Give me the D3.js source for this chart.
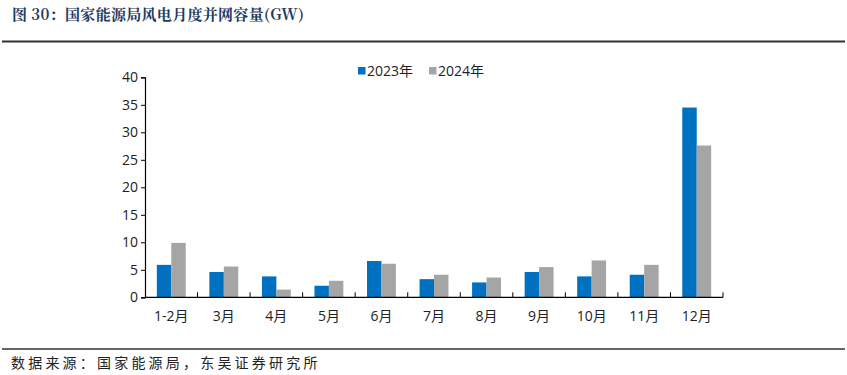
<!DOCTYPE html>
<html>
<head>
<meta charset="utf-8">
<script src="https://cdn.jsdelivr.net/npm/d3@7"></script>
<style>
  html, body { margin: 0; padding: 0; background: #fff; }
  svg { display: block; }
</style>
</head>
<body>
<div id="chart"></div>
<script>
// Monthly grid-connected wind capacity (GW), NEA
const months = ['1-2月', '3月', '4月', '5月', '6月', '7月', '8月', '9月', '10月', '11月', '12月'];
const series2023 = [5.9, 4.6, 3.8, 2.1, 6.6, 3.3, 2.7, 4.6, 3.8, 4.1, 34.5];
const series2024 = [9.9, 5.6, 1.4, 3.0, 6.1, 4.1, 3.6, 5.5, 6.7, 5.9, 27.6];
const seriesNames = ['2023年', '2024年'];
const seriesColors = ['#0070c0', '#a5a5a5'];
const yTickValues = [0, 5, 10, 15, 20, 25, 30, 35, 40];

const W = 847, H = 375;
const cjk = '"Noto Sans CJK SC", "Noto Sans", sans-serif';
const latin = '"Open Sans", "Noto Sans", "Noto Sans CJK SC", sans-serif';

const svg = d3.select('#chart').append('svg')
  .attr('width', W).attr('height', H);

// Header: title + rule
svg.append('text')
  .attr('x', 12).attr('y', 20)
  .attr('font-family', '"Noto Serif CJK SC", "Noto Sans CJK SC", serif')
  .attr('font-size', 15).attr('font-weight', 'bold')
  .attr('letter-spacing', 0.3)
  .attr('fill', '#1f3a60')
  .text('图 30：国家能源局风电月度并网容量(GW)');
svg.append('line')
  .attr('x1', 2).attr('x2', 845).attr('y1', 41.5).attr('y2', 41.5)
  .attr('stroke', '#333').attr('stroke-width', 2);

// Footer: rule + source
svg.append('line')
  .attr('x1', 2).attr('x2', 845).attr('y1', 349).attr('y2', 349)
  .attr('stroke', '#333').attr('stroke-width', 1.5);
svg.append('text')
  .attr('x', 11).attr('y', 368)
  .attr('font-family', cjk).attr('font-size', 14)
  .attr('letter-spacing', 3.2)
  .attr('fill', '#222')
  .text('数据来源：国家能源局，东吴证券研究所');

// Plot area
const margin = { left: 145, right: 124, top: 77.3, bottom: 77.7 };
const plotW = W - margin.left - margin.right;
const plotH = H - margin.top - margin.bottom;
const g = svg.append('g').attr('transform', `translate(${margin.left},${margin.top})`);

const x = d3.scaleBand().domain(months).range([0, plotW]).paddingInner(0.45).paddingOuter(0.225);
const xOuter = d3.scaleBand().domain(months).range([0, plotW]);
const xSub = d3.scaleBand().domain(seriesNames).range([0, x.bandwidth()]);
const y = d3.scaleLinear().domain([0, 40]).range([plotH, 0]);

// Bars
const rows = months.map((m, i) => ({ m, vals: [series2023[i], series2024[i]] }));
const grp = g.selectAll('.grp').data(rows).enter().append('g')
  .attr('transform', (d) => `translate(${x(d.m)},0)`);
grp.selectAll('rect')
  .data((d) => d.vals.map((v, k) => ({ v, k })))
  .enter().append('rect')
  .attr('x', (d) => xSub(seriesNames[d.k]))
  .attr('width', xSub.bandwidth())
  .attr('y', (d) => y(d.v))
  .attr('height', (d) => plotH - y(d.v))
  .attr('fill', (d) => seriesColors[d.k]);

// Y axis
const yAxis = d3.axisLeft(y).tickValues(yTickValues).tickSize(4).tickPadding(3);
const yg = g.append('g').call(yAxis);
yg.select('.domain').attr('stroke', '#000').attr('stroke-width', 1.2);
yg.selectAll('.tick line').attr('stroke', '#000');
yg.selectAll('.tick text')
  .attr('font-family', latin).attr('font-size', 14).attr('fill', '#222');

// X axis: boundary ticks pointing up
const xg = g.append('g').attr('transform', `translate(0,${plotH})`);
xg.append('line')
  .attr('x1', 0).attr('x2', plotW)
  .attr('stroke', '#000').attr('stroke-width', 1.2);
const bounds = months.map((m) => xOuter(m) + xOuter.bandwidth());
xg.selectAll('.xt').data(bounds).enter().append('line')
  .attr('x1', (d) => d).attr('x2', (d) => d)
  .attr('y1', 0).attr('y2', -5)
  .attr('stroke', '#000');
xg.selectAll('.xl').data(months).enter().append('text')
  .attr('x', (d) => xOuter(d) + xOuter.bandwidth() / 2)
  .attr('y', 24)
  .attr('text-anchor', 'middle')
  .attr('font-family', latin).attr('font-size', 14).attr('fill', '#222')
  .text((d) => d);

// Legend
const legend = svg.append('g').attr('transform', 'translate(358,67)');
const legendX = [0, 71];
seriesNames.forEach((name, k) => {
  legend.append('rect')
    .attr('x', legendX[k]).attr('y', 0)
    .attr('width', 7.5).attr('height', 7.5)
    .attr('fill', seriesColors[k]);
  legend.append('text')
    .attr('x', legendX[k] + 9).attr('y', 9)
    .attr('font-family', latin).attr('font-size', 14).attr('fill', '#222')
    .text(name);
});
</script>
</body>
</html>
